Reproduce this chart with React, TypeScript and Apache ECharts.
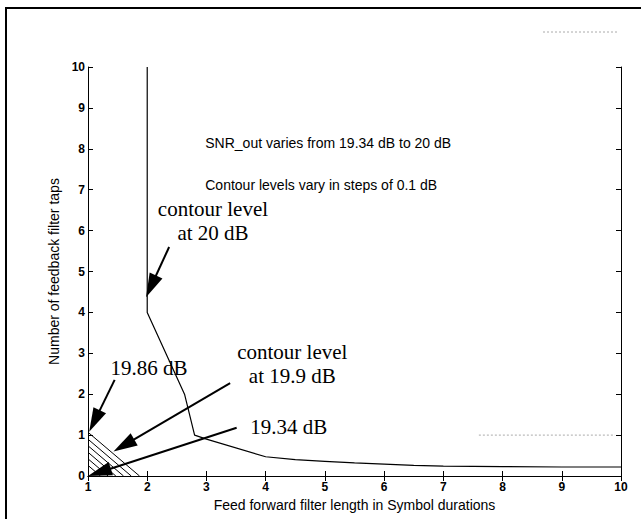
import React, { useEffect, useRef } from "react";
import * as echarts from "echarts";

// 20 dB contour
const contourX = [2, 2, 2.63, 2.8, 3.0, 4, 4.5, 5, 5.5, 6, 6.5, 7, 8, 9, 10];
const contourY = [10, 4, 2.0, 1.0, 0.9, 0.47, 0.4, 0.36, 0.32, 0.29, 0.26, 0.24, 0.23, 0.22, 0.22];

// hatched low-SNR contours near origin (left-axis intercept -> bottom-axis intercept)
const hatchY0 = [1.07, 0.9, 0.74, 0.58, 0.42, 0.26];
const hatchX1 = [1.87, 1.73, 1.6, 1.47, 1.34, 1.21];

// arrows: start -> tip
const arrowX0 = [2.37, 1.45, 3.4, 3.51];
const arrowY0 = [5.6, 2.35, 2.27, 1.18];
const arrowX1 = [1.98, 1.02, 1.43, 1.0];
const arrowY1 = [4.37, 1.08, 0.6, 0.0];

// serif annotations
const annoText = ["contour level\nat 20 dB", "contour level\nat 19.9 dB", "19.86 dB", "19.34 dB"];
const annoX = [3.11, 4.45, 2.03, 4.39];
const annoY = [6.24, 2.74, 2.63, 1.2];

// sans notes
const noteText = ["SNR_out varies from 19.34 dB to 20 dB", "Contour levels vary in steps of 0.1 dB"];
const noteX = [2.98, 2.98];
const noteY = [8.14, 7.11];

// faint scan artefact inside the axes
const artX = [7.6, 9.9];
const artY = [1.0, 1.0];

const SANS = "'Liberation Sans', Arial, sans-serif";
const SERIF = "'Liberation Serif', 'Times New Roman', serif";

export default function App() {
  const ref = useRef<HTMLDivElement>(null);
  useEffect(() => {
    if (!ref.current) return;
    const chart = echarts.init(ref.current, undefined, { renderer: "svg" });
    const axisCommon = {
      type: "value" as const,
      interval: 1,
      splitLine: { show: false },
      axisLine: { show: true, lineStyle: { color: "#000", width: 1 } },
      axisTick: { show: true, inside: true, length: 5, lineStyle: { color: "#000", width: 1 } },
    };
    const hatchSeries = hatchY0.map((y0, i) => ({
      type: "line",
      data: [
        [1, y0],
        [hatchX1[i], 0],
      ],
      symbol: "none",
      silent: true,
      lineStyle: { color: "#000", width: 1 },
      z: 3,
    }));
    const option: any = {
      animation: false,
      backgroundColor: "#fff",
      grid: { left: 88, right: 20, top: 67, bottom: 43, containLabel: false, outerBoundsMode: "none" },
      xAxis: [
        {
          ...axisCommon,
          min: 1,
          max: 10,
          position: "bottom",
          name: "Feed forward filter length in Symbol durations",
          nameLocation: "middle",
          nameGap: 18,
          nameTextStyle: { color: "#000", fontSize: 14, fontFamily: SANS },
          axisLabel: { color: "#000", fontSize: 12, fontWeight: "bold", fontFamily: SANS, margin: 5 },
        },
        {
          ...axisCommon,
          min: 1,
          max: 10,
          position: "top",
          axisLabel: { show: false },
        },
      ],
      yAxis: [
        {
          ...axisCommon,
          min: 0,
          max: 10,
          position: "left",
          name: "Number of feedback filter taps",
          nameLocation: "middle",
          nameGap: 24,
          nameTextStyle: { color: "#000", fontSize: 14, fontFamily: SANS },
          axisLabel: { color: "#000", fontSize: 12, fontWeight: "bold", fontFamily: SANS, margin: 3 },
        },
        {
          ...axisCommon,
          min: 0,
          max: 10,
          position: "right",
          axisLabel: { show: false },
        },
      ],
      graphic: [
        {
          type: "rect",
          shape: { x: 6, y: 8, width: 700, height: 600 },
          style: { fill: "none", stroke: "#000", lineWidth: 2 },
          silent: true,
        },
        {
          type: "line",
          shape: { x1: 543, y1: 32, x2: 618, y2: 32 },
          style: { stroke: "#aaa", lineWidth: 1, lineDash: [2, 2] },
          silent: true,
        },
      ],
      series: [
        {
          type: "line",
          data: contourX.map((x, i) => [x, contourY[i]]),
          symbol: "none",
          lineStyle: { color: "#000", width: 1.2 },
          z: 3,
        },
        ...hatchSeries,
        {
          type: "line",
          data: artX.map((x, i) => [x, artY[i]]),
          symbol: "none",
          lineStyle: { color: "#aaa", width: 1, type: [2, 2] },
          z: 2,
        },
        {
          type: "custom",
          clip: false,
          data: arrowX0.map((x, i) => [x, arrowY0[i], arrowX1[i], arrowY1[i]]),
          encode: { x: [0, 2], y: [1, 3] },
          z: 5,
          renderItem: (params: any, api: any) => {
            const s = api.coord([api.value(0), api.value(1)]);
            const t = api.coord([api.value(2), api.value(3)]);
            const dx = t[0] - s[0];
            const dy = t[1] - s[1];
            const len = Math.hypot(dx, dy);
            const ux = dx / len;
            const uy = dy / len;
            const hl = 24;
            const hw = 7;
            const bx = t[0] - ux * hl;
            const by = t[1] - uy * hl;
            return {
              type: "group",
              children: [
                {
                  type: "line",
                  shape: { x1: s[0], y1: s[1], x2: bx + ux * 2, y2: by + uy * 2 },
                  style: { stroke: "#000", lineWidth: 2 },
                },
                {
                  type: "polygon",
                  shape: {
                    points: [
                      [t[0], t[1]],
                      [bx - uy * hw, by + ux * hw],
                      [bx + uy * hw, by - ux * hw],
                    ],
                  },
                  style: { fill: "#000" },
                },
              ],
            };
          },
        },
        {
          type: "custom",
          clip: false,
          data: annoX.map((x, i) => [x, annoY[i], i]),
          encode: { x: 0, y: 1 },
          z: 6,
          renderItem: (params: any, api: any) => {
            const p = api.coord([api.value(0), api.value(1)]);
            return {
              type: "text",
              x: p[0],
              y: p[1],
              style: {
                text: annoText[params.dataIndex],
                fill: "#000",
                fontSize: 21,
                lineHeight: 24,
                fontFamily: SERIF,
                align: "center",
                verticalAlign: "middle",
              },
            };
          },
        },
        {
          type: "custom",
          clip: false,
          data: noteX.map((x, i) => [x, noteY[i], i]),
          encode: { x: 0, y: 1 },
          z: 6,
          renderItem: (params: any, api: any) => {
            const p = api.coord([api.value(0), api.value(1)]);
            return {
              type: "text",
              x: p[0],
              y: p[1],
              style: {
                text: noteText[params.dataIndex],
                fill: "#000",
                fontSize: 14,
                fontFamily: SANS,
                align: "left",
                verticalAlign: "middle",
              },
            };
          },
        },
      ],
    };
    chart.setOption(option);
    return () => chart.dispose();
  }, []);
  return (
    <div
      ref={ref}
      style={{ position: "fixed", left: 0, top: 0, width: 641, height: 519, background: "#fff" }}
    />
  );
}
